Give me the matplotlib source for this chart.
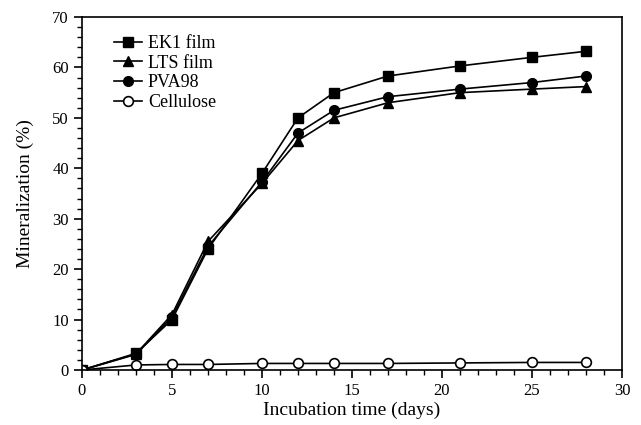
import matplotlib
matplotlib.use("Agg")
import matplotlib.pyplot as plt
from matplotlib.ticker import MultipleLocator

plt.rcParams['font.family'] = ['Liberation Serif', 'DejaVu Serif']

days = [0, 3, 5, 7, 10, 12, 14, 17, 21, 25, 28]
ek1 = [0, 3.3, 10, 24, 39, 50, 55, 58.3, 60.3, 62, 63.2]
lts = [0, 3.2, 11, 25.5, 37, 45.5, 50, 53, 55, 55.7, 56.2]
pva98 = [0, 3.1, 10.5, 24.5, 37.3, 47, 51.5, 54.2, 55.7, 57, 58.3]
cellulose = [0, 1.0, 1.1, 1.1, 1.3, 1.3, 1.3, 1.3, 1.4, 1.5, 1.5]

fig = plt.figure(figsize=(6.41, 4.25), dpi=100)
ax = fig.add_axes([82/641, 1-370/425, 540/641, 353/425])

kw = dict(color='black', lw=1.2, ms=7)
ax.plot(days, ek1, marker='s', label='EK1 film', **kw)
ax.plot(days, lts, marker='^', label='LTS film', **kw)
ax.plot(days, pva98, marker='o', label='PVA98', **kw)
ax.plot(days, cellulose, marker='o', mfc='white', mec='black', mew=1.2, label='Cellulose', **kw)

ax.set_xlim(0, 30)
ax.set_ylim(0, 70)
ax.xaxis.set_major_locator(MultipleLocator(5))
ax.xaxis.set_minor_locator(MultipleLocator(1))
ax.yaxis.set_major_locator(MultipleLocator(10))
ax.yaxis.set_minor_locator(MultipleLocator(2))
ax.tick_params(which='major', direction='out', length=6, width=1.2, labelsize=12)
ax.tick_params(which='minor', direction='out', length=3.5, width=1)
for s in ax.spines.values():
    s.set_linewidth(1.2)

ax.set_xlabel('Incubation time (days)', fontsize=14, labelpad=2)
ax.set_ylabel('Mineralization (%)', fontsize=14, labelpad=13)

ax.legend(loc='upper left', frameon=False, fontsize=13, handlelength=1.6,
          handletextpad=0.3, labelspacing=0.15, borderaxespad=0.3,
          bbox_to_anchor=(0.035, 0.985))

fig.savefig('out.png', dpi=100)
